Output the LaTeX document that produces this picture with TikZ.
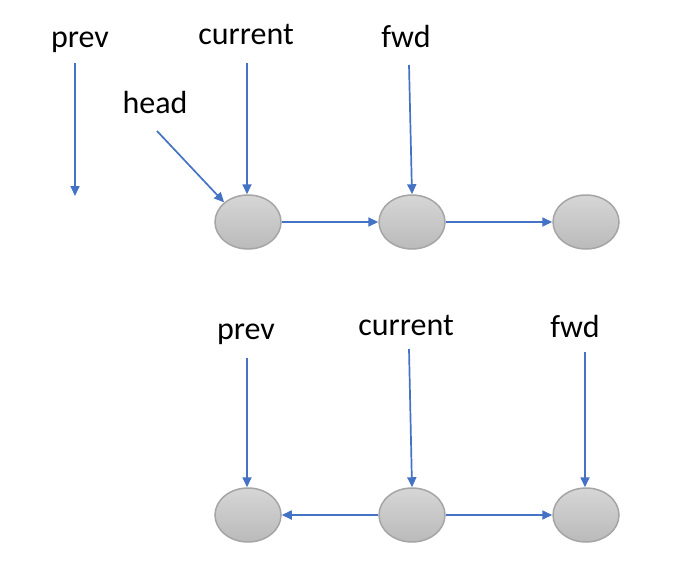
\documentclass[tikz,border=0pt]{standalone}
\usepackage{fontspec}
\setmainfont{Carlito}
\usetikzlibrary{arrows.meta,shapes.geometric}
\definecolor{ptrblue}{HTML}{4472C4}
\definecolor{cellline}{HTML}{A5A5A5}
\begin{document}
\begin{tikzpicture}[x=1pt, y=-1pt,
    ptr/.style={draw=ptrblue, line width=1.7pt, -{Triangle[length=10pt,width=9pt]}},
    cell/.style={ellipse, draw=cellline, line width=1.5pt, top color=black!16,
        bottom color=black!27, minimum width=66pt, minimum height=54pt, inner sep=0pt},
    lbl/.style={anchor=base, font=\fontsize{32}{38}\selectfont}]
    \useasboundingbox (0,0) rectangle (692,564);

    % list before the step
    \node[cell] (A1) at (248,222) {};
    \node[cell] (A2) at (412,222) {};
    \node[cell] (A3) at (586,222) {};

    \node[lbl] (prevA) at (80,48) {prev};
    \node[lbl] (curA) at (246,45) {current};
    \node[lbl] (fwdA) at (406,48) {fwd};
    \node[lbl] (headA) at (155,114) {head};

    \coordinate (prevTopA) at (75,63);
    \coordinate (prevEndA) at (75,196);
    \coordinate (curTopA) at (247,63);
    \coordinate (fwdTopA) at (409,65);
    \coordinate (headTopA) at (157,131);

    % list after the step
    \node[cell] (B1) at (248,515) {};
    \node[cell] (B2) at (412,515) {};
    \node[cell] (B3) at (586,515) {};

    \node[lbl] (prevB) at (246,339) {prev};
    \node[lbl] (curB) at (406,335) {current};
    \node[lbl] (fwdB) at (575,337) {fwd};

    \coordinate (prevTopB) at (247,358);
    \coordinate (curTopB) at (409,349);
    \coordinate (fwdTopB) at (585,352);

    \draw[ptr] (prevTopA) -- (prevEndA);
    \draw[ptr] (curTopA) -- (A1.north -| curTopA);
    \draw[ptr] (fwdTopA) -- (A2.north);
    \draw[ptr] (headTopA) -- (A1.north west);
    \draw[ptr] (A1) -- (A2);
    \draw[ptr] (A2) -- (A3);

    \draw[ptr] (prevTopB) -- (B1.north -| prevTopB);
    \draw[ptr] (curTopB) -- (B2.north);
    \draw[ptr] (fwdTopB) -- (B3.north -| fwdTopB);
    \draw[ptr] (B2) -- (B1);
    \draw[ptr] (B2) -- (B3);
\end{tikzpicture}
\end{document}
